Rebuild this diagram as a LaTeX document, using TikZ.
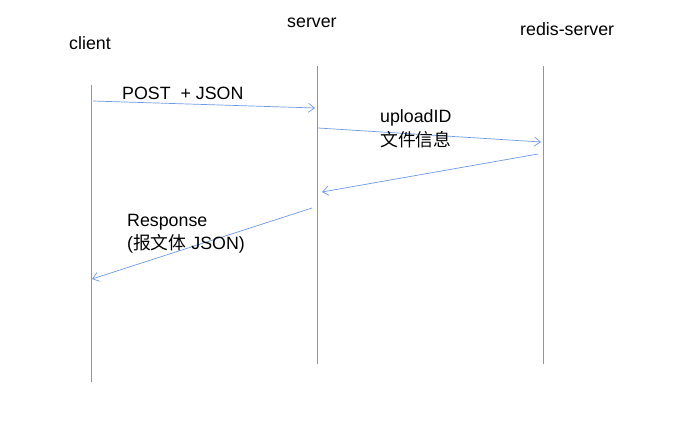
\documentclass[tikz,border=0pt]{standalone}
\usepackage{fontspec}
\setmainfont{Liberation Sans}
\newfontfamily\cjk{Noto Sans CJK SC}
\usetikzlibrary{arrows.meta}
\definecolor{lineblue}{RGB}{110,155,232}
\tikzset{
  lifeline/.style={draw=lineblue, line width=1pt},
  msg/.style={draw=lineblue, line width=0.7pt, -{Straight Barb[length=6pt,width=9pt,line width=0.7pt]}},
  lbl/.style={anchor=west, inner sep=0pt, font=\fontsize{17.8}{21}\selectfont, text=black, align=left},
}
\begin{document}
\begin{tikzpicture}[x=1pt,y=-1pt]
\useasboundingbox (0,0) rectangle (690,420);
\fill[white] (0,0) rectangle (690,420);
% titles
\node[lbl] (tclient) at (69,43) {client};
\node[lbl] (tserver) at (287,23) {server};
\node[lbl] (tredis) at (520,29) {redis-server};
% lifelines
\coordinate (c1) at (91,85);
\coordinate (c2) at (91,382);
\coordinate (s1) at (317,66);
\coordinate (s2) at (317,364);
\coordinate (r1) at (543,66);
\coordinate (r2) at (543,364);
\draw[lifeline] (c1) -- (c2);
\draw[lifeline] (s1) -- (s2);
\draw[lifeline] (r1) -- (r2);
% message endpoints
\coordinate (m1a) at (93,101);
\coordinate (m1b) at (315,108);
\coordinate (m2a) at (318,128);
\coordinate (m2b) at (541,142);
\coordinate (m3a) at (538,154);
\coordinate (m3b) at (322,192);
\coordinate (m4a) at (312,208);
\coordinate (m4b) at (92,279);
\draw[msg] (m1a) -- (m1b);
\draw[msg] (m2a) -- (m2b);
\draw[msg] (m3a) -- (m3b);
\draw[msg] (m4a) -- (m4b);
% labels
\node[lbl] (l1) at (122,93) {POST\ \ + JSON};
\node[lbl] (l2a) at (380,118) {uploadID};
\node[lbl] (l2b) at (380,140) {\cjk 文件信息};
\node[lbl] (l4a) at (127,222) {Response};
\node[lbl] (l4b) at (127,244) {({\cjk 报文体} JSON)};
\end{tikzpicture}
\end{document}
